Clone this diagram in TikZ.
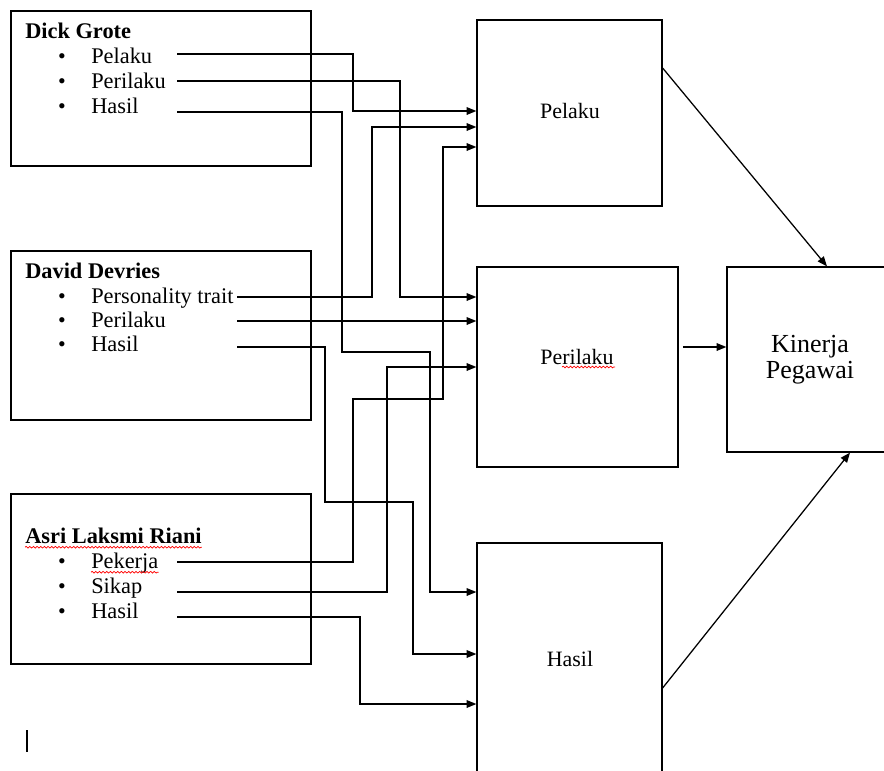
\documentclass[tikz,border=0pt]{standalone}
\usepackage{fontspec}
\setmainfont{Liberation Serif}
\usetikzlibrary{
  arrows.meta,
  fit,
  decorations.pathmorphing
}
\tikzset{
  box/.style={draw, line width=0.9pt, inner sep=0pt},
  txt/.style={anchor=base west, inner sep=0pt, font=\fontsize{15.9}{18}\selectfont},
  head/.style={txt, font=\fontsize{15.9}{18}\selectfont\bfseries},
  dot/.style={anchor=base, inner sep=0pt, font=\fontsize{15.6}{18}\selectfont},
  boxtxt/.style={anchor=base, inner sep=0pt, font=\fontsize{15.6}{18}\selectfont},
  bigtxt/.style={anchor=base, inner sep=0pt, font=\fontsize{18.5}{18.5}\selectfont},
  link/.style={line width=0.9pt, -{Triangle[length=7pt,width=5.5pt]}},
  squiggle/.style={red, line width=0.5pt, decorate,
    decoration={snake, amplitude=0.6pt, segment length=2.6pt}}
}

\begin{document}
\begin{tikzpicture}[x=0.025cm, y=-0.025cm]
  \useasboundingbox (0,0) rectangle (884,771);
  \clip (0,0) rectangle (884,771);

  % source boxes
  \node[box, fit={(11,11) (311,166)}] (dick) {};
  \node[box, fit={(11,251) (311,420)}] (david) {};
  \node[box, fit={(11,494) (311,664)}] (asri) {};

  \node[head] (dickHead) at (25,38) {Dick Grote};
  \foreach \y/\name/\t in {63/dgPel/Pelaku, 88/dgPer/Perilaku, 113/dgHas/Hasil} {
    \node[dot] (\name-dot) at (62,\y) {\textbullet};
    \node[txt] (\name) at (91,\y) {\t};
  }

  \node[head] (davidHead) at (25,278) {David Devries};
  \foreach \y/\name/\t in {303/ddPer/Personality trait, 327/ddPrl/Perilaku, 351/ddHas/Hasil} {
    \node[dot] (\name-dot) at (62,\y) {\textbullet};
    \node[txt] (\name) at (91,\y) {\t};
  }

  \node[head] (asriHead) at (25,543) {Asri Laksmi Riani};
  \foreach \y/\name/\t in {568/alPek/Pekerja, 593/alSik/Sikap, 618/alHas/Hasil} {
    \node[dot] (\name-dot) at (62,\y) {\textbullet};
    \node[txt] (\name) at (91,\y) {\t};
  }

  % target boxes
  \node[box, fit={(477,20) (662,206)}] (pelaku) {};
  \node[box, fit={(477,267) (678,467)}] (perilaku) {};
  \node[box, fit={(477,543) (662,780)}] (hasil) {};
  \node[box, fit={(727,267) (893,452)}] (kinerja) {};
  \node[boxtxt] (pelakuTxt) at (570,118) {Pelaku};
  \node[boxtxt] (perilakuTxt) at (577,364) {Perilaku};
  \node[boxtxt] (hasilTxt) at (570,666) {Hasil};
  \node[bigtxt] (kinerjaTxt) at (810,352) {Kinerja};
  \node[bigtxt] (pegawaiTxt) at (810,378) {Pegawai};

  % line starts
  \coordinate (dg1) at (177,54);
  \coordinate (dg2) at (177,81);
  \coordinate (dg3) at (177,112);
  \coordinate (dd1) at (237,297);
  \coordinate (dd2) at (237,321);
  \coordinate (dd3) at (237,347);
  \coordinate (al1) at (177,562);
  \coordinate (al2) at (177,592);
  \coordinate (al3) at (177,617);

  \draw[link] (dg1) -| (353,111) -- (pelaku.west |- 0,111);
  \draw[link] (dg2) -| (400,297) -- (perilaku.west |- 0,297);
  \draw[link] (dg3) -| (342,352) -| (430,592) -- (hasil.west |- 0,592);
  \draw[link] (dd1) -| (372,127) -- (pelaku.west |- 0,127);
  \draw[link] (dd2) -- (perilaku.west |- 0,321);
  \draw[link] (dd3) -| (325,502) -| (413,654) -- (hasil.west |- 0,654);
  \draw[link] (al1) -| (353,399) -| (443,147) -- (pelaku.west |- 0,147);
  \draw[link] (al2) -| (387,367) -- (perilaku.west |- 0,367);
  \draw[link] (al3) -| (360,704) -- (hasil.west |- 0,704);

  \draw[link] (pelaku.east |- 0,68) -- (kinerja.north -| 827,0);
  \draw[link, shorten <=3pt] (perilaku.east |- 0,347) -- (kinerja.west |- 0,347);
  \draw[link] (hasil.east |- 0,688) -- (kinerja.south -| 850,0);

  % spelling marks and cursor
  \draw[squiggle] ([yshift=-3pt]asriHead.base west) -- ([yshift=-3pt]asriHead.base east);
  \draw[squiggle] ([yshift=-3pt]alPek.base west) -- ([yshift=-3pt]alPek.base east);
  \draw[squiggle] (562,367) -- (615,367);
  \draw[line width=0.8pt] (27,730) -- (27,752);
\end{tikzpicture}
\end{document}
